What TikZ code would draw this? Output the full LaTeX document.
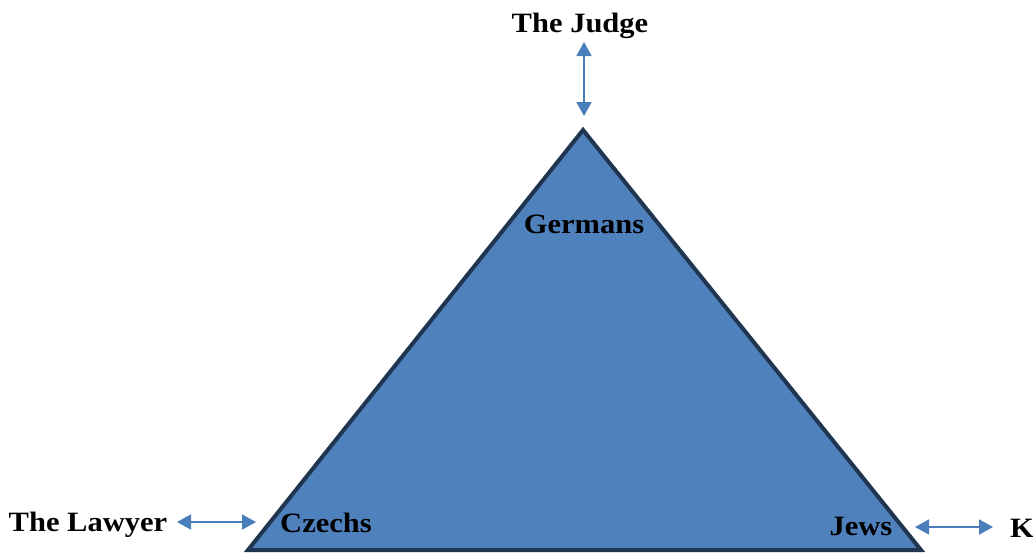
\documentclass[tikz,border=0pt]{standalone}
\usepackage{fontspec}
\setmainfont{Liberation Serif}[FakeStretch=1.09]
\usetikzlibrary{arrows.meta}
\definecolor{triFill}{HTML}{4F81BD}
\definecolor{triLine}{HTML}{1F3550}
\definecolor{arrBlue}{HTML}{4A7EBB}
\tikzset{
  lbl/.style={font=\fontsize{28}{32}\selectfont\bfseries, inner sep=0pt, text=black},
  link/.style={draw=arrBlue, line width=1.8pt, {Triangle[length=14pt,width=15pt]}-{Triangle[length=14pt,width=15pt]}}
}
\begin{document}
\begin{tikzpicture}[x=1pt,y=1pt]
\useasboundingbox (0,0) rectangle (1033,-552);
\clip (0,0) rectangle (1033,-552);
\coordinate (apex) at (583,-130);
\coordinate (bl) at (248,-550);
\coordinate (br) at (921,-550);
\filldraw[fill=triFill, draw=triLine, line width=4pt, line join=miter] (apex) -- (bl) -- (br) -- cycle;
\node[lbl] (judge) at (580,-26) {The Judge};
\node[lbl] (germans) at (584,-224) {Germans};
\node[lbl] (czechs) at (326,-523) {Czechs};
\node[lbl] (jews) at (861,-526) {Jews};
\node[lbl] (lawyer) at (88,-525) {The Lawyer};
\node[lbl, anchor=west] (k) at (1010,-528) {K};
\coordinate (j1) at (584,-42);
\coordinate (j2) at (584,-116);
\coordinate (l1) at (177,-522);
\coordinate (l2) at (256,-522);
\coordinate (w1) at (915,-527);
\coordinate (w2) at (993,-527);
\draw[link] (j1) -- (j2);
\draw[link] (l1) -- (l2);
\draw[link] (w1) -- (w2);
\end{tikzpicture}
\end{document}
